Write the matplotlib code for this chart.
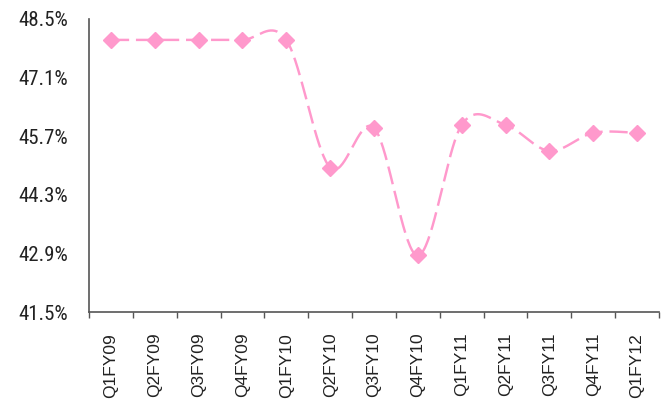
import matplotlib
matplotlib.use("Agg")
import matplotlib.pyplot as plt
import numpy as np

quarters = ["Q1FY09", "Q2FY09", "Q3FY09", "Q4FY09", "Q1FY10", "Q2FY10", "Q3FY10",
            "Q4FY10", "Q1FY11", "Q2FY11", "Q3FY11", "Q4FY11", "Q1FY12"]
margin = [48.0, 48.0, 48.0, 48.0, 48.0, 44.95, 45.9, 42.85, 45.97, 45.97, 45.35, 45.78, 45.78]
yticks = [41.5, 42.9, 44.3, 45.7, 47.1, 48.5]

pink = "#FF99CC"


def smooth(xs, ys, n=40):
    # catmull-rom style bezier, like excel's smoothed line
    xs = np.asarray(xs, float)
    ys = np.asarray(ys, float)
    px = np.concatenate([[xs[0]], xs, [xs[-1]]])
    py = np.concatenate([[ys[0]], ys, [ys[-1]]])
    outx, outy = [], []
    t = np.linspace(0, 1, n)
    for i in range(1, len(px) - 2):
        p0 = np.array([px[i], py[i]])
        p3 = np.array([px[i + 1], py[i + 1]])
        c1 = p0 + (np.array([px[i + 1], py[i + 1]]) - np.array([px[i - 1], py[i - 1]])) / 6
        c2 = p3 - (np.array([px[i + 2], py[i + 2]]) - np.array([px[i], py[i]])) / 6
        b = ((1 - t) ** 3)[:, None] * p0 + (3 * (1 - t) ** 2 * t)[:, None] * c1 \
            + (3 * (1 - t) * t ** 2)[:, None] * c2 + (t ** 3)[:, None] * p3
        outx.extend(b[:, 0])
        outy.extend(b[:, 1])
    return outx, outy


x = np.arange(len(quarters))
sx, sy = smooth(x, margin)

fig = plt.figure(figsize=(6.67, 4.04), dpi=100)
ax = fig.add_axes([0.1334, 0.2277, 0.8546, 0.7253])

ax.plot(sx, sy, color=pink, lw=1.75, dashes=(7.5, 2.8))
ax.plot(x, margin, ls="none", marker="D", ms=8.5, color=pink, mec=pink)

ax.set_xlim(-0.5, len(quarters) - 0.5)
ax.set_ylim(41.5, 48.5)
ax.set_yticks(yticks)
ax.set_yticklabels([f"{v:.1f}%" for v in yticks],
                   family=["Roboto Condensed", "DejaVu Sans"], fontsize=15, color="#222222")
ax.tick_params(axis="y", length=0, pad=15)

ax.set_xticks(x)
ax.set_xticklabels(quarters, rotation=90, family=["Liberation Sans", "DejaVu Sans"],
                   fontsize=12.5, color="#222222")
ax.set_xticks(np.arange(len(quarters) + 1) - 0.5, minor=True)
ax.tick_params(axis="x", which="major", length=0, pad=15)
ax.tick_params(axis="x", which="minor", length=4.5, width=1, color="#555555")

for s in ["top", "right"]:
    ax.spines[s].set_visible(False)
for s in ["left", "bottom"]:
    ax.spines[s].set_color("#555555")
    ax.spines[s].set_linewidth(1.2)

fig.savefig("out.png", dpi=100)
